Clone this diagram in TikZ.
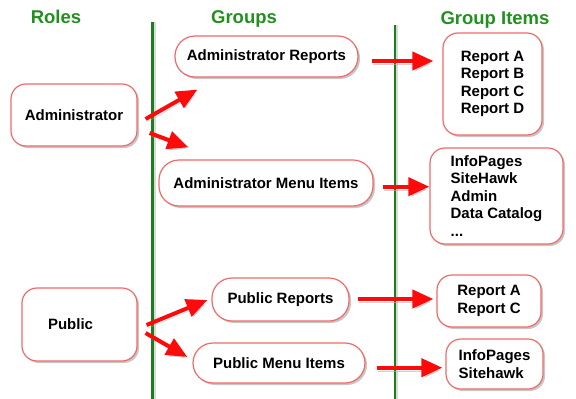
\documentclass[tikz,border=0pt]{standalone}
\usepackage{fontspec}
\setmainfont{Liberation Sans}
\usetikzlibrary{arrows.meta,shadows}
\definecolor{boxRed}{HTML}{F06A6A}
\definecolor{lineGreen}{HTML}{1C7F1C}
\definecolor{titleGreen}{HTML}{22901E}
\definecolor{arrRed}{HTML}{FF0A0A}
\tikzset{
  boxbase/.style={draw=boxRed, line width=1.2pt, fill=white, align=left, inner sep=0pt,
    font=\fontsize{15}{17.5}\selectfont\bfseries,
    drop shadow={shadow xshift=2pt, shadow yshift=-2pt, opacity=0.22, fill=black}},
  rolebox/.style={boxbase, rounded corners=15pt},
  groupbox/.style={boxbase, rounded corners=20pt},
  itembox/.style={boxbase, rounded corners=15pt},
  coltitle/.style={font=\fontsize{18.5}{20}\selectfont\bfseries, text=titleGreen},
  divline/.style={draw=lineGreen, line width=2.5pt,
    preaction={draw=black!15, line width=2.5pt, transform canvas={shift={(2pt,0pt)}}}},
  arrflow/.style={draw=arrRed, line width=4pt, -{Triangle[length=21pt, width=18pt]},
    preaction={draw=black!30, opacity=0.6, transform canvas={shift={(1.5pt,-3pt)}}}},
}

\begin{document}
\begin{tikzpicture}[x=1pt, y=-1pt]
\useasboundingbox (0,0) rectangle (576,399);

% column titles
\node[coltitle] (troles) at (56,17) {Roles};
\node[coltitle] (tgroups) at (244,18.5) {Groups};
\node[coltitle] (titems) at (495,20) {Group Items};

% dividers
\draw[divline] (152.5,22) -- (152.5,399);
\draw[divline] (395,25) -- (395,399);

% roles
\node[rolebox, minimum width=126, minimum height=62] (admin) at (74,115) {Administrator};
\node[rolebox, minimum width=115, minimum height=73, text width=63pt] (public) at (79.5,324.5) {Public};

% groups
\node[groupbox, minimum width=183, minimum height=41] (adminrep) at (266.5,56.5) {Administrator Reports};
\node[groupbox, minimum width=214, minimum height=46] (adminmenu) at (266,183) {Administrator Menu Items};
\node[groupbox, minimum width=137, minimum height=43] (pubrep) at (280.5,299.5) {Public Reports};
\node[groupbox, minimum width=172, minimum height=40] (pubmenu) at (279,363) {Public Menu Items};

% group items
\node[itembox, minimum width=99, minimum height=102] (items1) at (492.5,84) {Report A\\Report B\\Report C\\Report D};
\node[itembox, minimum width=133, minimum height=96] (items2) at (496.5,196) {InfoPages\\SiteHawk\\Admin\\Data Catalog\\...};
\node[itembox, minimum width=104, minimum height=52] (items3) at (489,301) {Report A\\Report C};
\node[itembox, minimum width=97, minimum height=50] (items4) at (494.5,364) {InfoPages\\Sitehawk};

% roles -> groups
\draw[arrflow] ([shift={(8,4)}]admin.east) -- ([shift={(23,12)}]adminrep.south west);
\draw[arrflow] ([shift={(12,18)}]admin.east) -- ([shift={(30,-12)}]adminmenu.north west);
\draw[arrflow] ([shift={(9,0.5)}]public.east) -- ([shift={(-4,0.5)}]pubrep.west);
\draw[arrflow] ([shift={(8,8.5)}]public.east) -- ([shift={(-5,-6)}]pubmenu.west);

% groups -> items
\draw[arrflow, shorten >=9pt] ([shift={(13,4.5)}]adminrep.east) coordinate (s1) -- (s1 -| items1.west);
\draw[arrflow] ([shift={(9,3.7)}]adminmenu.east) coordinate (s2) -- (s2 -| items2.west);
\draw[arrflow, shorten >=3pt] ([shift={(8,-0.5)}]pubrep.east) coordinate (s3) -- (s3 -| items3.west);
\draw[arrflow, shorten >=3pt] ([shift={(11,4.7)}]pubmenu.east) coordinate (s4) -- (s4 -| items4.west);
\end{tikzpicture}
\end{document}
